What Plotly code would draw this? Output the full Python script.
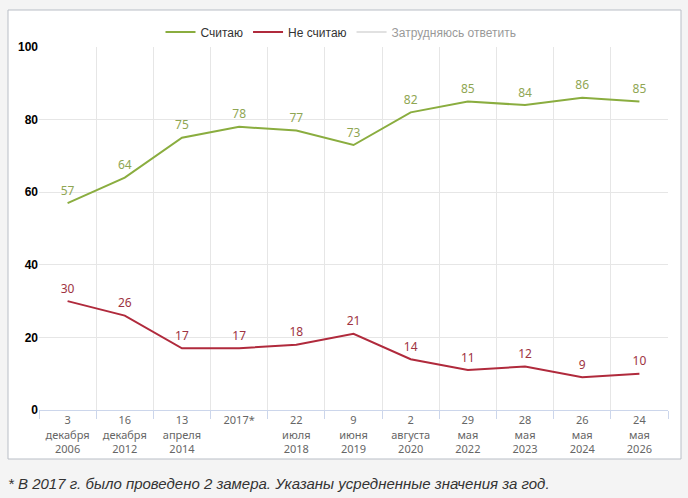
import plotly.graph_objects as go

categories = ["3<br>декабря<br>2006", "16<br>декабря<br>2012", "13<br>апреля<br>2014", "2017*",
              "22<br>июля<br>2018", "9<br>июня<br>2019", "2<br>августа<br>2020", "29<br>мая<br>2022",
              "28<br>мая<br>2023", "26<br>мая<br>2024", "24<br>мая<br>2026"]
schitayu = [57, 64, 75, 78, 77, 73, 82, 85, 84, 86, 85]
ne_schitayu = [30, 26, 17, 17, 18, 21, 14, 11, 12, 9, 10]
zatrud = [13, 10, 8, 5, 5, 6, 4, 4, 4, 5, 5]
y_ticks = [0, 20, 40, 60, 80, 100]

GREEN = "#8aad3f"
GREEN_TXT = "#8fa653"
RED = "#b02a3c"
RED_TXT = "#9e3342"
GRAY = "#c4c4c4"

fig = go.Figure()
fig.add_trace(go.Scatter(x=categories, y=schitayu, name="Считаю", mode="lines+markers+text",
                         text=[str(v) for v in schitayu], textposition="top center",
                         textfont=dict(color=GREEN_TXT, size=12, family="Noto Sans"),
                         marker=dict(size=7, color="rgba(0,0,0,0)"),
                         line=dict(color=GREEN, width=2), cliponaxis=False))
fig.add_trace(go.Scatter(x=categories, y=ne_schitayu, name="Не считаю", mode="lines+markers+text",
                         text=[str(v) for v in ne_schitayu], textposition="top center",
                         textfont=dict(color=RED_TXT, size=12, family="Noto Sans"),
                         marker=dict(size=7, color="rgba(0,0,0,0)"),
                         line=dict(color=RED, width=2), cliponaxis=False))
fig.add_trace(go.Scatter(x=categories, y=zatrud, name="Затрудняюсь ответить", mode="lines",
                         line=dict(color=GRAY, width=2), visible="legendonly"))

# panel geometry in px
W, H = 688, 498
L, R, T, B = 39, 20, 47, 88
pw, ph = W - L - R, H - T - B

def px_x(x):
    return (x - L) / pw

def px_y(y):
    return (H - B - y) / ph

fig.add_shape(type="rect", xref="paper", yref="paper",
              x0=px_x(8), x1=px_x(681), y0=px_y(459), y1=px_y(10),
              fillcolor="white", line=dict(color="#b9bec6", width=1), layer="below")

fig.add_annotation(xref="paper", yref="paper", x=px_x(6), y=px_y(483), xanchor="left", yanchor="middle",
                   text="<i>* В 2017 г. было проведено 2 замера. Указаны усредненные значения за год.</i>",
                   showarrow=False, font=dict(family="Liberation Sans, Arial", size=15, color="#333333"))

fig.update_layout(
    width=W, height=H,
    margin=dict(l=L, r=R, t=T, b=B),
    paper_bgcolor="#f4f4f4",
    plot_bgcolor="rgba(0,0,0,0)",
    showlegend=True,
    legend=dict(orientation="h", x=px_x(341), xanchor="center", y=px_y(32), yanchor="middle",
                font=dict(family="Liberation Sans, Arial", size=12, color="#333333"),
                bgcolor="rgba(0,0,0,0)", itemwidth=30),
    xaxis=dict(type="category", tickson="boundaries", showgrid=True, gridcolor="#e6e6e6",
               showline=True, linecolor="#ccd6eb", ticks="outside", ticklen=8, tickcolor="#ccd6eb",
               tickfont=dict(family="Noto Sans", size=11, color="#666666"), zeroline=False,
               range=[-0.5, 10.5]),
    yaxis=dict(range=[0, 100], tickvals=y_ticks, showgrid=True, gridcolor="#e6e6e6",
               zeroline=False, showline=False, ticks="",
               tickfont=dict(family="Liberation Sans, Arial", size=12, color="#000000", weight="bold")),
)

fig.write_html("out.html")
